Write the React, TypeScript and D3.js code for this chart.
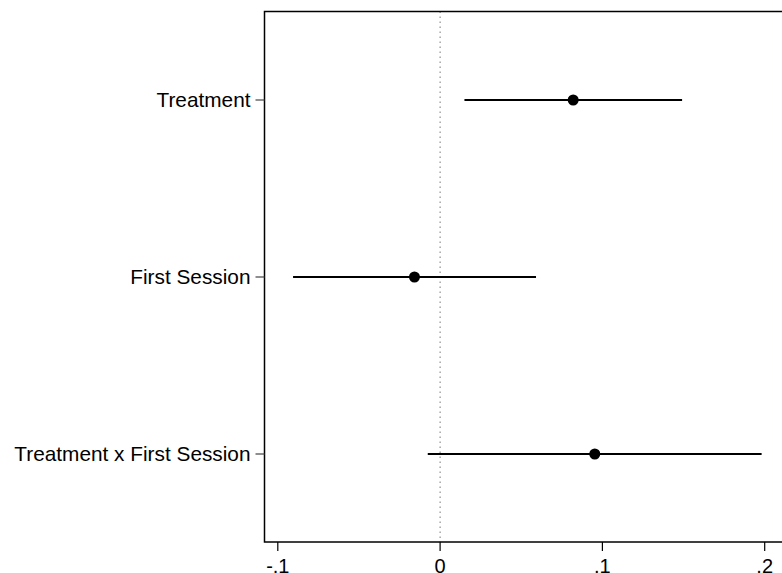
import React, { useEffect, useRef } from "react";
import * as d3 from "d3";

const labels = ["Treatment", "First Session", "Treatment x First Session"];
const estimates = [0.082, -0.0158, 0.0953];
const lower = [0.015, -0.0906, -0.0076];
const upper = [0.1491, 0.0591, 0.1981];
const xTicks = [-0.1, 0, 0.1, 0.2];
const xTickLabels = ["-.1", "0", ".1", ".2"];

const W = 782;
const H = 573;

export default function App() {
  const ref = useRef<SVGSVGElement>(null);

  useEffect(() => {
    const svg = d3.select(ref.current);
    svg.selectAll("*").remove();

    const left = 264.5;
    const top = 11.5;
    const bottom = 542;

    // zero at 439.7, 0.1 per 162.3px
    const x = d3.scaleLinear().domain([-0.1, 0.2]).range([277.8, 764.7]);
    const y = d3.scalePoint<string>().domain(labels).range([100, 454]);

    const font = "'Liberation Sans', Arial, Helvetica, sans-serif";

    // zero reference line
    svg.append("line")
      .attr("x1", x(0)).attr("x2", x(0))
      .attr("y1", top).attr("y2", bottom)
      .attr("stroke", "#777")
      .attr("stroke-width", 1)
      .attr("stroke-dasharray", "1.5,3.5");

    // box (right edge runs past the window)
    svg.append("rect")
      .attr("x", left).attr("y", top)
      .attr("width", 800 - left).attr("height", bottom - top)
      .attr("fill", "none")
      .attr("stroke", "#000")
      .attr("stroke-width", 1.5);

    // x axis ticks
    const xg = svg.append("g");
    xTicks.forEach((t, i) => {
      xg.append("line")
        .attr("x1", x(t)).attr("x2", x(t))
        .attr("y1", bottom).attr("y2", bottom + 9)
        .attr("stroke", "#000").attr("stroke-width", 1.2);
      xg.append("text")
        .attr("x", x(t)).attr("y", bottom + 31)
        .attr("text-anchor", "middle")
        .attr("font-family", font)
        .attr("font-size", 20)
        .text(xTickLabels[i]);
    });

    // y axis ticks
    const yg = svg.append("g");
    labels.forEach(l => {
      yg.append("line")
        .attr("x1", left - 9).attr("x2", left)
        .attr("y1", y(l)).attr("y2", y(l))
        .attr("stroke", "#444").attr("stroke-width", 1.2);
      yg.append("text")
        .attr("x", left - 14).attr("y", y(l))
        .attr("dy", "0.35em")
        .attr("text-anchor", "end")
        .attr("font-family", font)
        .attr("font-size", 20.8)
        .text(l);
    });

    // confidence intervals
    svg.selectAll("line.ci")
      .data(labels)
      .enter()
      .append("line")
      .attr("class", "ci")
      .attr("x1", (d, i) => x(lower[i]))
      .attr("x2", (d, i) => x(upper[i]))
      .attr("y1", d => y(d))
      .attr("y2", d => y(d))
      .attr("stroke", "#000")
      .attr("stroke-width", 2);

    // point estimates
    svg.selectAll("circle.est")
      .data(labels)
      .enter()
      .append("circle")
      .attr("class", "est")
      .attr("cx", (d, i) => x(estimates[i]))
      .attr("cy", d => y(d))
      .attr("r", 5.5)
      .attr("fill", "#000");
  }, []);

  return (
    <svg
      ref={ref}
      width={W}
      height={H}
      style={{ position: "absolute", left: 0, top: 0, background: "#fff" }}
    />
  );
}
